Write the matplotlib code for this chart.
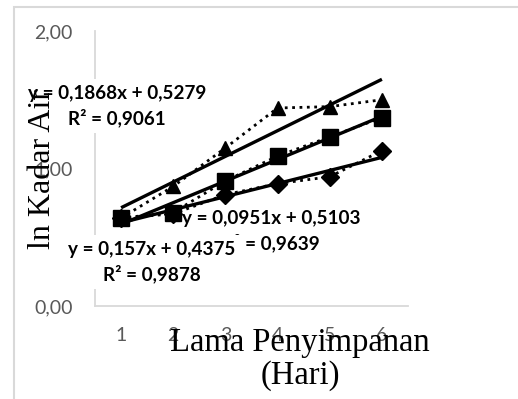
import matplotlib
matplotlib.use("Agg")
import matplotlib.pyplot as plt
from matplotlib.patches import Rectangle
import numpy as np

# data
days = [1, 2, 3, 4, 5, 6]
tick_labels = ["1", "2", "3", "4", "5", "6"]
triangle_vals = [0.64, 0.87, 1.15, 1.44, 1.45, 1.50]
square_vals = [0.64, 0.68, 0.91, 1.09, 1.23, 1.37]
diamond_vals = [0.64, 0.67, 0.81, 0.89, 0.94, 1.13]

# trendline coefficients (slope, intercept) and R^2 as shown
fit_slopes = [0.1868, 0.157, 0.0951]
fit_intercepts = [0.5279, 0.4375, 0.5103]
fit_r2 = ["0,9061", "0,9878", "0,9639"]
eq_labels = ["y = 0,1868x + 0,5279", "y = 0,157x + 0,4375", "y = 0,0951x + 0,5103"]

W, H = 518, 399
fig = plt.figure(figsize=(W / 100, H / 100), dpi=100)


def px(x, y):
    return x / W, 1 - y / H


ax = fig.add_axes([95 / W, 1 - 306 / H, 313 / W, 275 / H])
ax.set_xlim(0.5, 6.5)
ax.set_ylim(0, 2)

series = [(triangle_vals, "^", 10), (square_vals, "s", 12), (diamond_vals, "D", 9.5)]
for vals, mk, ms in series:
    ax.plot(days, vals, linestyle=":", color="black", linewidth=2,
            marker=mk, markersize=ms, markerfacecolor="black",
            markeredgecolor="black", zorder=4)

xs = np.array([days[0], days[-1]])
for a, b in zip(fit_slopes, fit_intercepts):
    ax.plot(xs, a * xs + b, color="black", linewidth=2.4,
            solid_capstyle="butt", zorder=4)

for s in ["top", "right"]:
    ax.spines[s].set_visible(False)
for s in ["left", "bottom"]:
    ax.spines[s].set_color("#d9d9d9")
    ax.spines[s].set_linewidth(1.3)

ax.set_xticks(days)
ax.set_xticklabels(tick_labels)
ax.set_yticks([0, 1, 2])
ax.set_yticklabels(["0,00", "1,00", "2,00"])
ax.tick_params(length=0, labelcolor="#595959", labelsize=14)
ax.tick_params(axis="x", pad=15)
ax.tick_params(axis="y", pad=16)
for t in ax.get_xticklabels() + ax.get_yticklabels():
    t.set_fontfamily("Lato")

# trendline equation labels
label_pos = [(117, 106), (152, 262), (271, 231)]
order = [0, 2, 1]
for i in order:
    x, y = px(*label_pos[i])
    ax.text(x, y, eq_labels[i] + "\nR\u00b2 = " + fit_r2[i], transform=fig.transFigure,
            ha="center", va="center", multialignment="center",
            fontfamily="Lato", fontweight="bold", fontsize=13.6,
            linespacing=1.42, clip_on=False, zorder=3,
            bbox=dict(boxstyle="square,pad=0.3", facecolor="white", edgecolor="none"))

# axis titles
x, y = px(43, 169)
ax.text(x, y, "ln Kadar Air", transform=fig.transFigure, rotation=90,
        ha="center", va="center", fontfamily="Liberation Serif",
        fontsize=23, clip_on=False, zorder=5)
x, y = px(300, 327)
fig.text(x, y, "Lama Penyimpanan\n(Hari)", ha="center", va="top",
         multialignment="center", fontfamily="Liberation Serif",
         fontsize=23.5, linespacing=1.13)

# chart area border
fig.patches.append(Rectangle((13.5 / W, -0.05), 1, 1.05 - 6.5 / H,
                             transform=fig.transFigure, fill=False,
                             edgecolor="#d9d9d9", linewidth=1.5))

fig.savefig("out.png", dpi=100)
